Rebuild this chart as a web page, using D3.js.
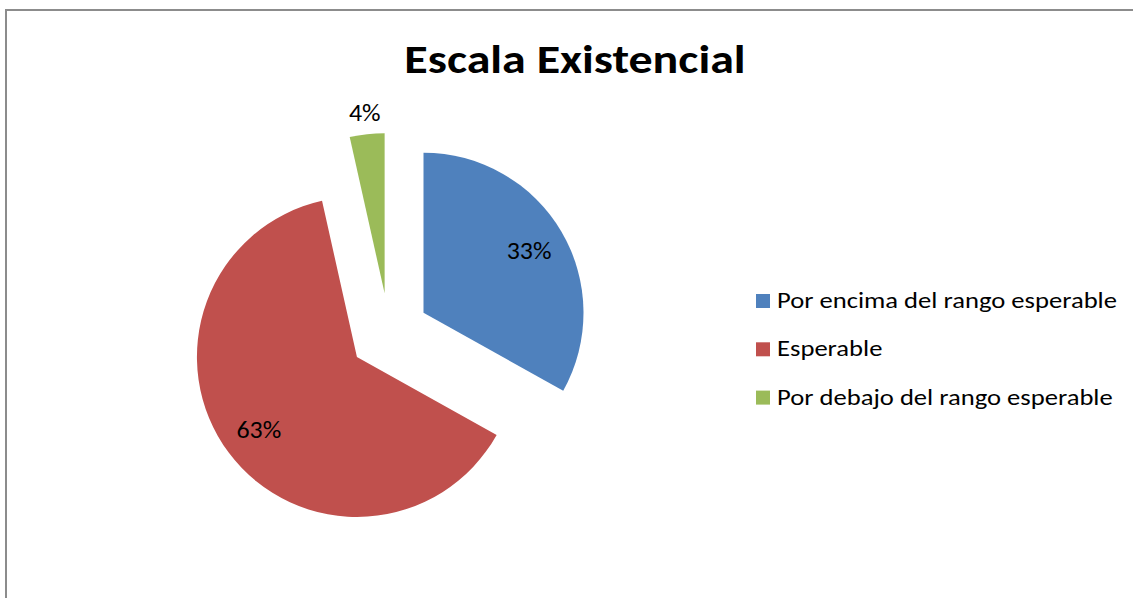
<!DOCTYPE html>
<html><head><meta charset="utf-8">
<script src="https://cdn.jsdelivr.net/npm/d3@7"></script>
<style>body{margin:0;background:#fff;} svg{display:block;}</style>
</head><body>
<script>
const categories = ["Por encima del rango esperable", "Esperable", "Por debajo del rango esperable"];
const values = [33.1, 63.4, 3.5];
const labels = ["33%", "63%", "4%"];
const colors = ["#4F81BD", "#C0504D", "#9BBB59"];
const title = "Escala Existencial";

const W = 1133, H = 598;
const font = "Carlito, Lato, 'Open Sans', sans-serif";
const svg = d3.select("body").append("svg").attr("width", W).attr("height", H);
svg.append("rect").attr("x", 6).attr("y", 10).attr("width", W + 10).attr("height", H + 10)
  .attr("fill", "#fff").attr("stroke", "#8c8c8c").attr("stroke-width", 2);

svg.append("text").attr("transform", "translate(575,73) scale(1.17,1)").attr("text-anchor", "middle")
  .attr("font-family", font).attr("font-weight", "bold").attr("font-size", 41).attr("fill", "#000").text(title);

const cx = 389, cy = 333, r = 160, explode = 40;
const pie = d3.pie().sort(null).startAngle(0).endAngle(2 * Math.PI)(values);
const arc = d3.arc().innerRadius(0).outerRadius(r);
const g = svg.append("g").attr("transform", `translate(${cx},${cy})`);
pie.forEach((d, i) => {
  const m = (d.startAngle + d.endAngle) / 2;
  const ox = Math.sin(m) * explode, oy = -Math.cos(m) * explode;
  const sg = g.append("g").attr("transform", `translate(${ox},${oy})`);
  sg.append("path").attr("d", arc(d)).attr("fill", colors[i]);
  const small = (d.endAngle - d.startAngle) < 0.5;
  const lr = small ? r + 21 : r * 0.765;
  sg.append("text")
    .attr("transform", `translate(${Math.sin(m) * lr},${-Math.cos(m) * lr + 8}) scale(1.08,1)`)
    .attr("text-anchor", "middle")
    .attr("font-family", font).attr("font-size", 24).attr("fill", "#000").text(labels[i]);
});

const lg = svg.append("g").attr("transform", "translate(756,301)");
categories.forEach((c, i) => {
  const row = lg.append("g").attr("transform", `translate(0,${i * 48.3})`);
  row.append("rect").attr("x", 0).attr("y", -7).attr("width", 14).attr("height", 14).attr("fill", colors[i]);
  row.append("text").attr("transform", "translate(21,7) scale(1.21,1)")
    .attr("font-family", font).attr("font-size", 22).attr("fill", "#000").text(c);
});
</script>
</body></html>
